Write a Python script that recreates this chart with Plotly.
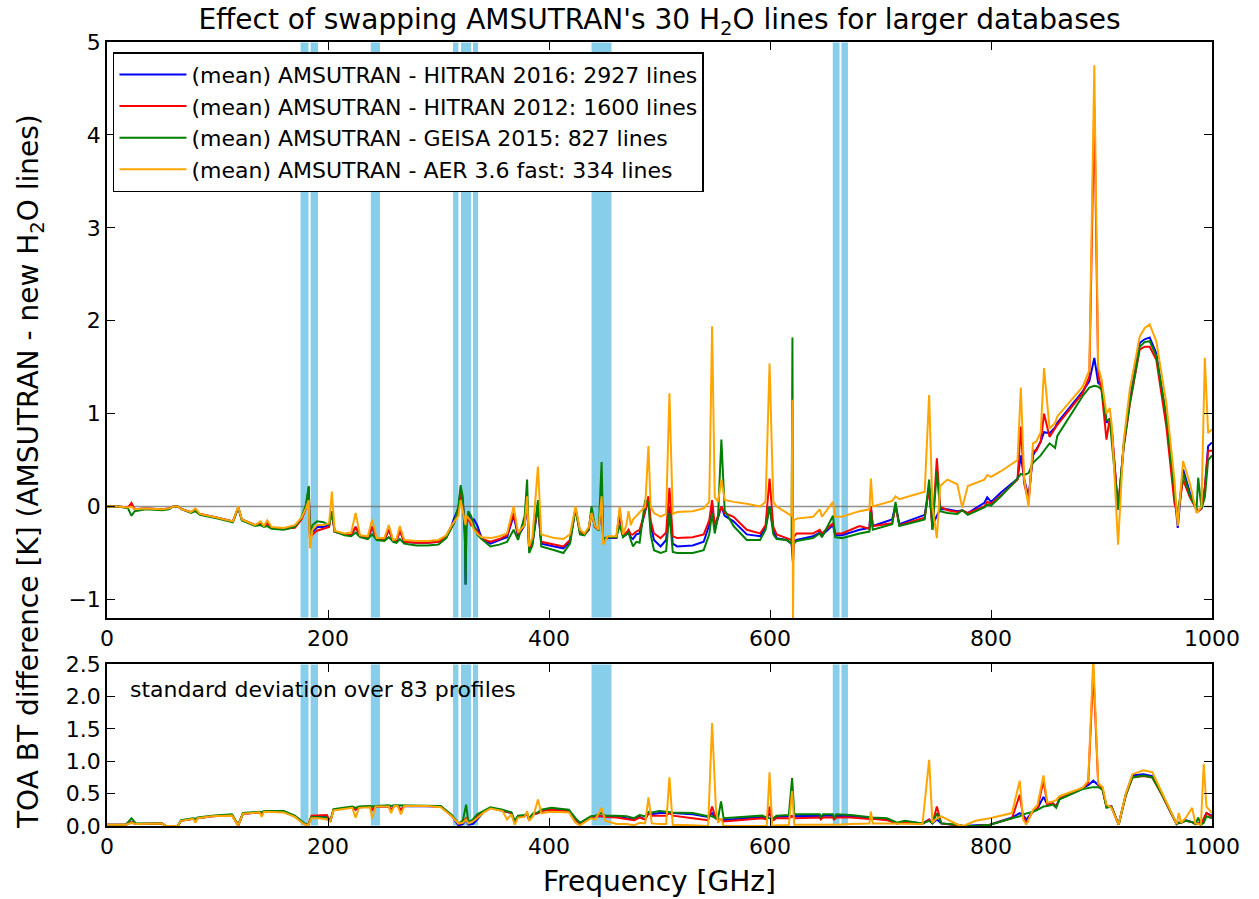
import plotly.graph_objects as go

# ---------------- data: mean difference (top panel) ----------------
freq_mean = [0, 10, 19, 22.2, 25, 35, 50, 56, 60, 64,
             68, 76, 80, 84, 100, 114, 118.8, 122, 134, 139,
             142, 145, 149, 160, 170, 176, 180, 182.6, 183.6, 186,
             190, 196, 201, 203.5, 206, 215, 221, 225, 229, 236,
             240, 244, 251, 255, 259, 262, 265, 269, 280, 290,
             300, 307, 312, 314, 318, 320, 322, 324, 324.5, 325.2,
             327, 329.5, 332, 335, 339, 347, 355, 362, 368, 372,
             378, 380.2, 382, 385, 390, 393, 405, 413, 419, 424,
             428, 432, 436, 438.5, 441.5, 445, 447.6, 449, 453, 461,
             464, 467, 470, 472, 474, 476, 479, 482, 487, 490,
             492, 495, 501, 506, 509, 512, 516, 530, 540, 545,
             547.6, 550, 553, 556, 559, 567, 579, 591, 596, 599.6,
             603, 606, 615, 619.5, 620.3, 620.8, 621.5, 624, 639, 645,
             647, 657, 659, 665, 681, 690, 691.3, 693, 710.6, 713.6,
             717, 740, 744, 747, 751, 754, 760.5, 769.5, 774, 779,
             794, 796.6, 800, 809, 824, 827, 830, 834, 838, 841,
             845, 848, 853, 858, 860, 883, 889, 893.5, 897, 900,
             904.5, 907.5, 909.5, 915, 920, 925.6, 934.6, 939, 943.6, 949.6,
             958.7, 966, 969, 973.8, 980, 986, 987.5, 990.5, 993.5, 996.5, 1000]

mean_hitran2016 = [0, 0, -0.01, 0.02, -0.03, -0.02, -0.03, -0.02, 0, 0,
                   -0.03, -0.06, -0.04, -0.08, -0.12, -0.16, -0.01, -0.14, -0.2, -0.18,
                   -0.21, -0.18, -0.23, -0.24, -0.22, -0.13, -0.02, 0.18, -0.3, -0.28,
                   -0.22, -0.22, -0.2, -0.05, -0.27, -0.3, -0.31, -0.22, -0.32, -0.34,
                   -0.22, -0.35, -0.36, -0.25, -0.37, -0.37, -0.26, -0.38, -0.39, -0.39,
                   -0.38, -0.32, -0.2, -0.13, -0.02, 0.18, 0.05, -0.3, -0.84, -0.2,
                   -0.08, -0.16, -0.14, -0.2, -0.34, -0.4, -0.36, -0.33, -0.1, -0.32,
                   -0.2, 0.05, -0.46, -0.4, 0.0, -0.4, -0.43, -0.45, -0.38, -0.02,
                   -0.27, -0.3, -0.25, -0.05, -0.22, -0.25, 0.1, -0.35, -0.34, -0.34,
                   -0.1, -0.32, -0.3, -0.28, -0.33, -0.35, -0.3, -0.29, -0.05, 0.07,
                   -0.2, -0.36, -0.43, -0.36, 0.0, -0.4, -0.43, -0.42, -0.38, -0.2,
                   0.0, -0.25, -0.12, 0.0, -0.1, -0.16, -0.3, -0.32, -0.22, 0.0,
                   -0.25, -0.34, -0.36, -0.4, -0.5, -0.6, -0.38, -0.36, -0.32, -0.28,
                   -0.31, -0.2, -0.31, -0.31, -0.25, -0.23, 0.0, -0.21, -0.14, 0.02,
                   -0.19, -0.09, 0.2, -0.2, -0.1, -0.03, -0.03, -0.05, -0.04, -0.07,
                   0.04, 0.1, 0.05, 0.15, 0.3, 0.55, 0.3, 0.1, 0.55, 0.61,
                   0.7, 0.8, 0.79, 0.85, 0.9, 1.24, 1.35, 1.6, 1.33, 1.3,
                   0.9, 0.95, 0.8, -0.03, 0.65, 1.15, 1.76, 1.8, 1.82, 1.65,
                   0.95, 0.15, -0.23, 0.4, 0.15, -0.03, -0.05, -0.02, 0.2, 0.65, 0.69]

mean_hitran2012 = [0, 0, -0.01, 0.04, -0.03, -0.02, -0.03, -0.02, 0, 0,
                   -0.03, -0.06, -0.04, -0.08, -0.12, -0.16, -0.01, -0.14, -0.2, -0.18,
                   -0.21, -0.18, -0.23, -0.24, -0.23, -0.14, -0.02, 0.21, -0.34, -0.3,
                   -0.26, -0.24, -0.22, -0.05, -0.27, -0.3, -0.31, -0.22, -0.32, -0.34,
                   -0.22, -0.35, -0.36, -0.25, -0.37, -0.37, -0.26, -0.38, -0.39, -0.39,
                   -0.38, -0.33, -0.22, -0.18, -0.05, 0.15, 0.02, -0.3, -0.3, -0.2,
                   -0.12, -0.2, -0.22, -0.26, -0.35, -0.38, -0.35, -0.31, -0.07, -0.3,
                   -0.18, 0.05, -0.45, -0.38, 0.02, -0.38, -0.41, -0.43, -0.36, -0.02,
                   -0.27, -0.3, -0.25, -0.05, -0.22, -0.25, 0.1, -0.35, -0.33, -0.33,
                   -0.04, -0.3, -0.28, -0.25, -0.3, -0.3, -0.27, -0.25, -0.05, 0.11,
                   -0.15, -0.29, -0.34, -0.28, 0.2, -0.32, -0.34, -0.33, -0.3, -0.15,
                   0.07, -0.2, -0.1, 0.0, -0.07, -0.11, -0.25, -0.29, -0.2, 0.3,
                   -0.22, -0.3, -0.34, -0.36, -0.5, -0.6, -0.33, -0.29, -0.29, -0.25,
                   -0.29, -0.18, -0.29, -0.29, -0.21, -0.24, 0.0, -0.21, -0.18, 0.0,
                   -0.2, -0.12, 0.2, -0.25, 0.52, 0.0, -0.04, -0.06, -0.04, -0.07,
                   0.0, 0.05, 0.03, 0.12, 0.29, 0.86, 0.25, 0.05, 0.6, 0.6,
                   0.7, 1.0, 0.75, 0.85, 0.88, 1.22, 1.4, 4.3, 1.42, 1.26,
                   0.72, 0.95, 0.8, -0.03, 0.63, 1.1, 1.69, 1.72, 1.72, 1.58,
                   0.86, 0.04, -0.1, 0.29, 0.1, -0.03, -0.05, -0.02, 0.2, 0.6, 0.6]

mean_geisa2015 = [0, 0, -0.02, -0.10, -0.05, -0.03, -0.04, -0.03, 0, 0,
                  -0.03, -0.07, -0.05, -0.09, -0.13, -0.17, -0.01, -0.15, -0.21, -0.2,
                  -0.22, -0.21, -0.24, -0.25, -0.22, -0.12, 0.02, 0.22, -0.29, -0.2,
                  -0.16, -0.17, -0.2, -0.05, -0.27, -0.31, -0.32, -0.28, -0.33, -0.35,
                  -0.3, -0.36, -0.37, -0.33, -0.38, -0.39, -0.35, -0.4, -0.42, -0.42,
                  -0.41, -0.34, -0.22, -0.18, 0.0, 0.23, 0.1, -0.4, -0.84, -0.2,
                  -0.05, -0.1, -0.2, -0.3, -0.35, -0.43, -0.41, -0.38, -0.25, -0.36,
                  -0.1, 0.29, -0.5, -0.42, 0.07, -0.43, -0.47, -0.5, -0.4, -0.02,
                  -0.3, -0.31, -0.24, 0.0, -0.21, -0.26, 0.48, -0.35, -0.33, -0.33,
                  -0.2, -0.33, -0.3, -0.28, -0.36, -0.43, -0.38, -0.39, 0.07, 0.04,
                  -0.3, -0.47, -0.5, -0.48, -0.07, -0.49, -0.5, -0.5, -0.47, -0.3,
                  -0.07, -0.29, -0.1, 0.72, -0.04, -0.21, -0.36, -0.36, -0.25, 0.0,
                  -0.3, -0.35, -0.36, -0.4, 1.82, -0.45, -0.4, -0.37, -0.34, -0.29,
                  -0.33, -0.1, -0.33, -0.34, -0.29, -0.27, -0.06, -0.25, -0.19, 0.05,
                  -0.21, -0.14, 0.29, -0.25, 0.38, -0.05, -0.07, -0.08, -0.04, -0.09,
                  -0.01, 0.02, 0.01, 0.11, 0.3, 0.35, 0.34, 0.36, 0.47, 0.5,
                  0.55, 0.6, 0.68, 0.63, 0.76, 1.19, 1.28, 1.3, 1.29, 1.26,
                  0.93, 0.93, 0.65, -0.03, 0.65, 1.11, 1.72, 1.77, 1.78, 1.62,
                  0.97, 0.15, -0.1, 0.36, 0.12, -0.03, 0.31, -0.02, 0.1, 0.5, 0.55]

mean_aer36 = [0, 0, -0.01, 0.0, -0.03, -0.02, -0.03, -0.02, 0, 0,
              -0.03, -0.06, -0.02, -0.08, -0.12, -0.16, 0.0, -0.14, -0.2, -0.16,
              -0.21, -0.15, -0.22, -0.23, -0.2, -0.12, -0.02, 0.07, -0.45, -0.25,
              -0.2, -0.2, -0.18, 0.16, -0.26, -0.29, -0.28, -0.07, -0.31, -0.32,
              -0.14, -0.34, -0.34, -0.2, -0.36, -0.35, -0.21, -0.36, -0.37, -0.37,
              -0.36, -0.31, -0.2, -0.17, -0.1, 0.07, -0.05, -0.15, -0.2, -0.1,
              -0.12, -0.16, -0.25, -0.29, -0.33, -0.34, -0.32, -0.29, 0.0, -0.28,
              -0.2, 0.11, -0.43, -0.33, 0.43, -0.3, -0.34, -0.35, -0.3, 0.0,
              -0.25, -0.29, -0.22, -0.07, -0.21, -0.25, 0.11, -0.41, -0.32, -0.32,
              0.0, -0.3, -0.2, -0.05, -0.2, -0.14, -0.1, -0.07, 0.0, 0.65,
              0.0, -0.07, -0.11, -0.08, 1.22, -0.08, -0.06, -0.05, -0.02, 0.05,
              1.94, 0.1, 0.05, 0.29, 0.07, 0.05, 0.03, 0.0, 0.05, 1.54,
              0.05, 0.0, -0.07, -0.1, 1.15, -1.3, -0.15, -0.13, -0.11, -0.03,
              -0.11, 0.05, -0.11, -0.11, -0.05, -0.03, 0.3, 0.0, 0.06, 0.11,
              0.08, 0.16, 1.2, 0.0, -0.34, 0.22, 0.29, 0.24, -0.01, 0.22,
              0.29, 0.34, 0.32, 0.38, 0.5, 1.28, 0.3, 0.0, 0.68, 0.7,
              0.8, 1.49, 0.84, 0.9, 0.97, 1.29, 1.47, 4.75, 1.5, 1.37,
              1.0, 1.06, 0.85, -0.41, 0.7, 1.26, 1.83, 1.92, 1.96, 1.78,
              1.11, 0.29, -0.21, 0.49, 0.25, -0.07, -0.05, 0.0, 1.6, 0.79, 0.83]

# ---------------- data: standard deviation (bottom panel) ----------------
freq_std = [0, 17, 22.2, 26, 50, 53, 64, 67, 78, 80,
            82, 95, 113, 118.8, 123, 138, 140, 142, 160, 170,
            178, 182, 185, 192, 199, 202, 205, 222, 225, 228,
            238, 240, 243, 255, 257, 260, 263, 266, 269, 290,
            302, 312, 318, 322, 325, 327, 331, 335, 341, 347,
            358, 362, 366, 369, 372, 378, 380.2, 382, 386, 390,
            393, 402, 418, 424, 428, 438, 442, 447.6, 451, 461,
            470, 477, 482, 487, 490, 493, 500, 506, 509, 512,
            530, 544, 547.6, 551, 553, 555.7, 558, 575, 593, 597,
            599.6, 602, 606, 617, 620, 622, 645, 646, 648, 657,
            658, 660, 673, 690, 691.3, 693, 706, 715, 722, 738,
            744, 747, 751, 755, 770, 775, 786, 799, 819, 826,
            829, 832, 838, 842, 847.5, 851, 856, 859, 862, 883,
            888, 892.6, 897, 901, 904.5, 909, 915.5, 922, 928, 938,
            946, 954, 964, 968, 970, 972, 976, 982, 985, 987.5, 990, 992.5, 995, 1000]

std_hitran2016 = [0.02, 0.02, 0.06, 0.03, 0.04, 0.0, 0.0, 0.08, 0.11, 0.1,
                  0.12, 0.15, 0.17, 0.01, 0.19, 0.21, 0.2, 0.22, 0.22, 0.15,
                  0.04, 0.01, 0.13, 0.15, 0.14, 0.07, 0.25, 0.29, 0.25, 0.29,
                  0.3, 0.25, 0.3, 0.3, 0.25, 0.31, 0.31, 0.25, 0.31, 0.31,
                  0.3, 0.16, 0.01, 0.03, 0.1, 0.02, 0.03, 0.1, 0.22, 0.28,
                  0.24, 0.22, 0.2, 0.05, 0.15, 0.16, 0.18, 0.1, 0.18, 0.2,
                  0.23, 0.26, 0.24, 0.1, 0.04, 0.14, 0.15, 0.15, 0.15, 0.15,
                  0.12, 0.1, 0.14, 0.1, 0.2, 0.18, 0.2, 0.2, 0.2, 0.2,
                  0.18, 0.14, 0.2, 0.12, 0.1, 0.1, 0.09, 0.12, 0.14, 0.12,
                  0.2, 0.1, 0.14, 0.15, 0.15, 0.16, 0.16, 0.12, 0.16, 0.16,
                  0.1, 0.16, 0.15, 0.12, 0.12, 0.12, 0.1, 0.04, 0.07, 0.04,
                  0.1, 0.04, 0.1, 0.04, 0.01, 0.0, 0.01, 0.02, 0.13, 0.2,
                  0.17, 0.1, 0.23, 0.27, 0.45, 0.33, 0.35, 0.3, 0.42, 0.58,
                  0.63, 0.7, 0.63, 0.57, 0.3, 0.3, 0.02, 0.49, 0.78, 0.8,
                  0.77, 0.52, 0.17, 0.03, 0.05, 0.05, 0.09, 0.06, 0.03, 0.04, 0.02, 0.1, 0.2, 0.16]

std_hitran2012 = [0.02, 0.02, 0.06, 0.03, 0.04, 0.0, 0.0, 0.08, 0.11, 0.1,
                  0.12, 0.15, 0.17, 0.01, 0.19, 0.21, 0.2, 0.22, 0.22, 0.15,
                  0.04, 0.01, 0.16, 0.17, 0.17, 0.07, 0.25, 0.29, 0.25, 0.29,
                  0.3, 0.25, 0.3, 0.3, 0.25, 0.31, 0.31, 0.25, 0.31, 0.31,
                  0.3, 0.16, 0.03, 0.06, 0.12, 0.05, 0.08, 0.15, 0.22, 0.28,
                  0.24, 0.22, 0.2, 0.05, 0.15, 0.16, 0.18, 0.1, 0.18, 0.2,
                  0.23, 0.25, 0.23, 0.1, 0.04, 0.14, 0.15, 0.15, 0.14, 0.13,
                  0.11, 0.09, 0.13, 0.1, 0.2, 0.16, 0.16, 0.16, 0.2, 0.16,
                  0.12, 0.09, 0.3, 0.12, 0.1, 0.1, 0.07, 0.1, 0.12, 0.1,
                  0.3, 0.08, 0.12, 0.12, 0.15, 0.12, 0.13, 0.1, 0.13, 0.13,
                  0.1, 0.13, 0.13, 0.11, 0.11, 0.11, 0.09, 0.04, 0.06, 0.03,
                  0.1, 0.04, 0.3, 0.04, 0.01, 0.0, 0.0, 0.02, 0.12, 0.48,
                  0.15, 0.05, 0.23, 0.27, 0.7, 0.33, 0.35, 0.3, 0.42, 0.58,
                  0.67, 2.4, 0.65, 0.55, 0.3, 0.3, 0.02, 0.47, 0.75, 0.77,
                  0.75, 0.5, 0.16, 0.03, 0.05, 0.05, 0.08, 0.06, 0.03, 0.04, 0.02, 0.1, 0.2, 0.14]

std_geisa2015 = [0.02, 0.02, 0.12, 0.04, 0.04, 0.0, 0.0, 0.09, 0.12, 0.11,
                 0.13, 0.16, 0.18, 0.02, 0.2, 0.22, 0.21, 0.23, 0.23, 0.16,
                 0.05, 0.01, 0.14, 0.14, 0.13, 0.07, 0.26, 0.3, 0.28, 0.3,
                 0.31, 0.3, 0.31, 0.32, 0.31, 0.32, 0.32, 0.31, 0.32, 0.32,
                 0.31, 0.17, 0.04, 0.08, 0.33, 0.06, 0.1, 0.18, 0.23, 0.29,
                 0.25, 0.23, 0.21, 0.08, 0.16, 0.17, 0.2, 0.12, 0.2, 0.21,
                 0.25, 0.28, 0.25, 0.12, 0.05, 0.15, 0.16, 0.2, 0.16, 0.16,
                 0.15, 0.12, 0.17, 0.15, 0.22, 0.21, 0.23, 0.22, 0.22, 0.21,
                 0.2, 0.15, 0.15, 0.12, 0.12, 0.38, 0.12, 0.14, 0.16, 0.13,
                 0.12, 0.11, 0.16, 0.17, 0.74, 0.18, 0.18, 0.14, 0.18, 0.18,
                 0.12, 0.18, 0.17, 0.14, 0.14, 0.13, 0.12, 0.05, 0.08, 0.04,
                 0.08, 0.04, 0.2, 0.04, 0.02, 0.0, 0.0, 0.02, 0.12, 0.15,
                 0.18, 0.19, 0.22, 0.25, 0.3, 0.31, 0.33, 0.28, 0.41, 0.57,
                 0.59, 0.6, 0.6, 0.56, 0.28, 0.3, 0.02, 0.48, 0.75, 0.78,
                 0.75, 0.51, 0.17, 0.03, 0.05, 0.05, 0.08, 0.06, 0.03, 0.13, 0.02, 0.05, 0.15, 0.12]

std_aer36 = [0.02, 0.02, 0.05, 0.03, 0.04, 0.0, 0.0, 0.08, 0.11, 0.05,
             0.12, 0.15, 0.16, 0.01, 0.19, 0.21, 0.14, 0.22, 0.21, 0.14,
             0.03, 0.01, 0.12, 0.12, 0.1, 0.07, 0.24, 0.28, 0.13, 0.28,
             0.29, 0.12, 0.3, 0.3, 0.2, 0.31, 0.31, 0.18, 0.31, 0.31,
             0.29, 0.15, 0.04, 0.05, 0.1, 0.04, 0.07, 0.12, 0.21, 0.27,
             0.23, 0.1, 0.18, 0.02, 0.13, 0.14, 0.23, 0.08, 0.16, 0.41,
             0.2, 0.22, 0.21, 0.05, 0.01, 0.12, 0.1, 0.28, 0.08, 0.03,
             0.03, 0.01, 0.05, 0.04, 0.44, 0.04, 0.03, 0.03, 0.75, 0.02,
             0.01, 0.0, 1.59, 0.28, 0.05, 0.12, 0.0, 0.0, 0.01, 0.0,
             0.83, 0.0, 0.01, 0.01, 0.54, 0.02, 0.02, 0.02, 0.02, 0.02,
             0.01, 0.02, 0.03, 0.04, 0.22, 0.04, 0.04, 0.04, 0.04, 0.03,
             1.02, 0.05, 0.12, 0.15, 0.02, 0.0, 0.08, 0.12, 0.2, 0.7,
             0.1, 0.02, 0.25, 0.32, 0.78, 0.36, 0.38, 0.4, 0.46, 0.59,
             0.7, 2.6, 0.66, 0.6, 0.33, 0.28, 0.02, 0.5, 0.8, 0.86,
             0.83, 0.55, 0.18, 0.03, 0.2, 0.05, 0.12, 0.28, 0.04, 0.03, 0.02, 0.96, 0.3, 0.2]

# instrument channel bands (GHz)
band_start = [174.7, 183.8, 238.2, 312.7, 319.9, 330.8, 438.0, 656.3, 664.2]
band_end = [182.8, 191.4, 247.6, 318.5, 330.0, 336.3, 457.0, 663.4, 671.0]

series_names = ["(mean) AMSUTRAN - HITRAN 2016: 2927 lines",
                "(mean) AMSUTRAN - HITRAN 2012: 1600 lines",
                "(mean) AMSUTRAN - GEISA 2015: 827 lines",
                "(mean) AMSUTRAN - AER 3.6 fast: 334 lines"]
series_colors = ["#0000FF", "#FF0000", "#008000", "#FFA500"]
mean_values = [mean_hitran2016, mean_hitran2012, mean_geisa2015, mean_aer36]
std_values = [std_hitran2016, std_hitran2012, std_geisa2015, std_aer36]

FONT = "DejaVu Sans"

fig = go.Figure()
for name, color, mv, sv in zip(series_names, series_colors, mean_values, std_values):
    fig.add_trace(go.Scatter(x=freq_mean, y=mv, mode="lines", name=name, legendgroup=name,
                             line=dict(color=color, width=2), xaxis="x", yaxis="y"))
    fig.add_trace(go.Scatter(x=freq_std, y=sv, mode="lines", name=name, legendgroup=name,
                             showlegend=False, line=dict(color=color, width=2),
                             xaxis="x2", yaxis="y2"))

for a, b in zip(band_start, band_end):
    for xr, yr in (("x", "y domain"), ("x2", "y2 domain")):
        fig.add_shape(type="rect", xref=xr, yref=yr, x0=a, x1=b, y0=0, y1=1,
                      fillcolor="#87CEEB", line=dict(color="white", width=1), layer="below")

fig.add_shape(type="line", xref="x domain", yref="y", x0=0, x1=1, y0=0, y1=0,
              line=dict(color="rgba(110,110,110,0.75)", width=1.5), layer="below")

axis_style = dict(showline=True, linecolor="black", linewidth=1.5, mirror="ticks",
                  ticks="inside", ticklen=8, tickwidth=1.2, tickcolor="black",
                  showgrid=False, zeroline=False,
                  tickfont=dict(family=FONT, size=22, color="black"))

fig.update_layout(
    width=1259, height=899,
    margin=dict(l=107, r=47, t=42, b=73),
    paper_bgcolor="white", plot_bgcolor="white",
    font=dict(family=FONT, color="black"),
    title=dict(text="Effect of swapping AMSUTRAN's 30 H<sub>2</sub>O lines for larger databases",
               x=0.5, xref="paper", xanchor="center", y=1 - 19 / 899, yref="container",
               yanchor="middle", font=dict(family=FONT, size=28, color="black")),
    xaxis=dict(domain=[0, 1], range=[0, 1000], dtick=200, anchor="y", **axis_style),
    yaxis=dict(domain=[0.2653, 1], range=[-1.2, 5], dtick=1, anchor="x", **axis_style),
    xaxis2=dict(domain=[0, 1], range=[0, 1000], dtick=200, anchor="y2", **axis_style),
    yaxis2=dict(domain=[0, 0.2066], range=[0, 2.5], dtick=0.5, tickformat=".1f",
                anchor="x2", **axis_style),
    showlegend=True,
    legend=dict(x=0.0054, y=0.987, xanchor="left", yanchor="top",
                bgcolor="white", bordercolor="black", borderwidth=1.5,
                font=dict(family=FONT, size=22, color="black"),
                tracegroupgap=0, itemwidth=67),
    annotations=[
        dict(text="TOA BT difference [K] (AMSUTRAN - new H<sub>2</sub>O lines)",
             x=-0.0697, y=0.4528, xref="paper", yref="paper", textangle=-90,
             showarrow=False, xanchor="center", yanchor="middle",
             font=dict(family=FONT, size=28, color="black")),
        dict(text="Frequency [GHz]", x=0.5, y=-0.0714, xref="paper", yref="paper",
             showarrow=False, xanchor="center", yanchor="middle",
             font=dict(family=FONT, size=28, color="black")),
        dict(text="standard deviation over 83 profiles", x=0.019, y=0.1735,
             xref="paper", yref="paper", showarrow=False, xanchor="left", yanchor="middle",
             font=dict(family=FONT, size=22, color="black")),
    ],
)

fig.write_html("out.html")
